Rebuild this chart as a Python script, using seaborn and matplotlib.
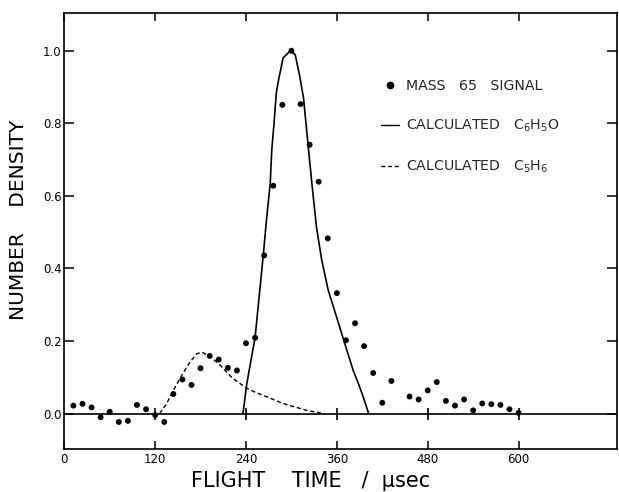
import numpy as np
import pandas as pd
import matplotlib
matplotlib.use("Agg")
import matplotlib.pyplot as plt
import seaborn as sns
from matplotlib.lines import Line2D

# ---- data ----
signal_t = [12, 24, 36, 48, 60, 72, 84, 96, 108, 120, 132, 144, 156, 168, 180,
            192, 204, 216, 228, 240, 252, 264, 276, 288, 300, 312, 324, 336,
            348, 360, 372, 384, 396, 408, 420, 432, 456, 468, 480, 492, 504,
            516, 528, 540, 552, 564, 576, 588, 600]
signal_y = [0.022, 0.027, 0.017, -0.010, 0.005, -0.023, -0.020, 0.024, 0.012,
            -0.004, -0.023, 0.054, 0.094, 0.079, 0.125, 0.159, 0.149, 0.126,
            0.119, 0.194, 0.209, 0.436, 0.628, 0.851, 1.000, 0.853, 0.741,
            0.639, 0.483, 0.332, 0.202, 0.249, 0.186, 0.112, 0.030, 0.090,
            0.047, 0.039, 0.064, 0.087, 0.035, 0.022, 0.039, 0.009, 0.028,
            0.026, 0.024, 0.012, 0.002]

c6h5o_t = [236, 241, 252, 263, 267, 272, 274, 277, 280, 283, 289, 298.5,
           305, 311, 316, 322, 327, 333, 340, 348.6, 361, 369.4, 381.6,
           388.6, 395, 402]
c6h5o_y = [0.0, 0.082, 0.21, 0.441, 0.533, 0.635, 0.726, 0.80, 0.883, 0.92,
           0.98, 1.0, 0.989, 0.929, 0.869, 0.74, 0.634, 0.515, 0.423, 0.34,
           0.257, 0.20, 0.119, 0.082, 0.045, 0.0]

c5h6_t = [126, 135, 144, 155, 166, 175, 182, 193, 206, 221, 230, 241, 253,
          263, 275, 285, 296, 307, 320, 333, 342]
c5h6_y = [0.0, 0.027, 0.064, 0.105, 0.142, 0.165, 0.169, 0.157, 0.133, 0.10,
          0.086, 0.07, 0.058, 0.05, 0.04, 0.031, 0.023, 0.017, 0.009, 0.004, 0.0]

x_ticks = [0, 120, 240, 360, 480, 600]
x_tick_labels = ["0", "120", "240", "360", "480", "600"]
y_ticks = [0.0, 0.2, 0.4, 0.6, 0.8, 1.0]
y_tick_labels = ["0.0", "0.2", "0.4", "0.6", "0.8", "1.0"]
zero_cross_t = [120, 240, 360, 480, 600]

labels = ["MASS   65   SIGNAL",
          r"CALCULATED   $\mathregular{C_6H_5O}$",
          r"CALCULATED   $\mathregular{C_5H_6}$"]

# ---- plotting ----
sns.set_style("white")
plt.rcParams['font.family'] = ['DejaVu Sans']
plt.rcParams['mathtext.default'] = 'regular'

fig = plt.figure(figsize=(6.19, 4.92), dpi=100)
ax = fig.add_axes([64.3 / 619, 1 - 449 / 492, (617 - 64.3) / 619, (449 - 13) / 492])

sig = pd.DataFrame({"t": signal_t, "y": signal_y})
c1 = pd.DataFrame({"t": c6h5o_t, "y": c6h5o_y})
c2 = pd.DataFrame({"t": c5h6_t, "y": c5h6_y})

ax.axhline(0, color="black", lw=1.2, zorder=1)
ax.plot(zero_cross_t, [0] * len(zero_cross_t), linestyle="none", marker="|",
        ms=9, mew=1.2, color="black", zorder=1)

sns.lineplot(data=c1, x="t", y="y", ax=ax, color="black", lw=1.2,
             estimator=None, sort=False, zorder=2)
sns.lineplot(data=c2, x="t", y="y", ax=ax, color="black", lw=1.0,
             estimator=None, sort=False, zorder=2, dashes=False,
             linestyle=(0, (3, 2)))
sns.scatterplot(data=sig, x="t", y="y", ax=ax, color="black", s=18,
                edgecolor="none", zorder=3)

ax.set_xlim(0, 730)
ax.set_ylim(-0.0975, 1.104)
ax.set_xticks(x_ticks)
ax.set_xticklabels(x_tick_labels)
ax.set_yticks(y_ticks)
ax.set_yticklabels(y_tick_labels)

ax.tick_params(axis="x", direction="in", length=6, width=1.1, top=True,
               bottom=True, labelsize=8.5, pad=3, colors="black")
ax.tick_params(axis="y", direction="in", length=7, width=1.1, left=True,
               right=True, labelsize=8.5, pad=2, colors="black")
for sp in ax.spines.values():
    sp.set_color("black")
    sp.set_linewidth(1.2)

ax.set_xlabel("FLIGHT    TIME   /  μsec", fontsize=15, color="black")
ax.set_ylabel("NUMBER    DENSITY", fontsize=14.5, color="black")
ax.xaxis.set_label_coords(0.4455, -0.05)
ax.yaxis.set_label_coords(-0.065, 0.526)

handles = [
    Line2D([], [], linestyle="none", marker="o", ms=4.5, color="black"),
    Line2D([], [], color="black", lw=1.0),
    Line2D([], [], color="black", lw=1.0, linestyle=(0, (2.8, 2))),
]
leg = ax.legend(handles, labels, loc="upper left",
                bbox_to_anchor=(381 / 619, 1 - 79 / 492),
                bbox_transform=fig.transFigure, frameon=False,
                fontsize=10.2, handlelength=1.3, handletextpad=0.5,
                labelspacing=1.75, borderpad=0, borderaxespad=0)

fig.savefig("out.png", dpi=100, facecolor="white")
